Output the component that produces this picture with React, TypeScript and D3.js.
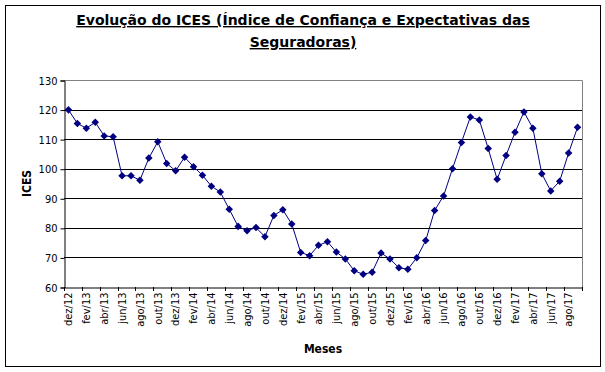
import React, { useEffect, useRef } from "react";
import * as d3 from "d3";

// months shown on the category axis (labels every other month)
const months = [
  "dez/12", "jan/13", "fev/13", "mar/13", "abr/13", "mai/13", "jun/13", "jul/13", "ago/13", "set/13", "out/13", "nov/13",
  "dez/13", "jan/14", "fev/14", "mar/14", "abr/14", "mai/14", "jun/14", "jul/14", "ago/14", "set/14", "out/14", "nov/14",
  "dez/14", "jan/15", "fev/15", "mar/15", "abr/15", "mai/15", "jun/15", "jul/15", "ago/15", "set/15", "out/15", "nov/15",
  "dez/15", "jan/16", "fev/16", "mar/16", "abr/16", "mai/16", "jun/16", "jul/16", "ago/16", "set/16", "out/16", "nov/16",
  "dez/16", "jan/17", "fev/17", "mar/17", "abr/17", "mai/17", "jun/17", "jul/17", "ago/17", "set/17"
];

const ices = [
  119.9, 115.3, 113.7, 115.7, 111.1, 110.8, 97.6, 97.6, 96.1, 103.6, 109.1, 101.8,
  99.3, 103.9, 100.7, 97.8, 94.1, 92.1, 86.3, 80.5, 79.0, 80.1, 77.0, 84.2,
  86.1, 81.3, 71.7, 70.6, 74.1, 75.3, 71.8, 69.5, 65.5, 64.3, 65.0, 71.5,
  69.5, 66.5, 66.0, 69.9, 75.7, 85.9, 90.8, 100.0, 108.9, 117.5, 116.5, 106.8,
  96.4, 104.5, 112.3, 119.2, 113.7, 98.3, 92.5, 95.8, 105.3, 114.0
];

const yTicks = [60, 70, 80, 90, 100, 110, 120, 130];

const FONT = "'DejaVu Sans Condensed', 'DejaVu Sans', sans-serif";
const TITLE_FONT = "'DejaVu Sans', sans-serif";

export default function App() {
  const ref = useRef<SVGSVGElement>(null);

  useEffect(() => {
    const svg = d3.select(ref.current);
    svg.selectAll("*").remove();

    const W = 605, H = 372;
    const plot = { left: 64, right: 582, top: 80, bottom: 287 };

    // outer frame
    svg.append("rect")
      .attr("x", 5.5).attr("y", 5.5)
      .attr("width", 595).attr("height", 361)
      .attr("fill", "white").attr("stroke", "black");

    const x = d3.scaleBand<string>()
      .domain(months)
      .range([plot.left, plot.right]);
    const y = d3.scaleLinear().domain([60, 130]).range([plot.bottom, plot.top]);

    // grid lines
    svg.append("g").selectAll("line")
      .data(yTicks.filter(t => t > 60 && t < 130))
      .join("line")
      .attr("x1", plot.left).attr("x2", plot.right)
      .attr("y1", d => Math.round(y(d)) + 0.5).attr("y2", d => Math.round(y(d)) + 0.5)
      .attr("stroke", "black");

    // plot area border (grey top / right)
    svg.append("path")
      .attr("d", `M${plot.left},${plot.top + 0.5}H${plot.right + 0.5}V${plot.bottom}`)
      .attr("fill", "none").attr("stroke", "#808080");

    // y axis
    const yAxis = d3.axisLeft(y).tickValues(yTicks).tickSize(4).tickPadding(3);
    const gy = svg.append("g")
      .attr("transform", `translate(${plot.left + 0.5},0.5)`)
      .call(yAxis);
    gy.selectAll("text").attr("font-family", FONT).attr("font-size", 11).attr("fill", "black");

    // x axis
    const xAxis = d3.axisBottom(x)
      .tickValues(months.filter((_, i) => i % 2 === 0))
      .tickSize(0).tickPadding(0);
    const gx = svg.append("g")
      .attr("transform", `translate(0,${plot.bottom + 0.5})`)
      .call(xAxis);
    gx.selectAll(".tick line").remove();
    gx.selectAll("text")
      .attr("font-family", FONT).attr("font-size", 11).attr("fill", "black")
      .attr("transform", "rotate(-90)")
      .attr("text-anchor", "end")
      .attr("x", -5).attr("y", 0).attr("dy", "0.35em");

    // tick marks at every other category boundary
    svg.append("g").selectAll("line")
      .data(months.map((_, i) => i).filter(i => i % 2 === 0).concat([months.length]))
      .join("line")
      .attr("x1", i => Math.round(plot.left + i * x.step()) + 0.5)
      .attr("x2", i => Math.round(plot.left + i * x.step()) + 0.5)
      .attr("y1", plot.bottom).attr("y2", plot.bottom + 4)
      .attr("stroke", "black");

    gx.select(".domain").attr("stroke", "black");
    gy.select(".domain").attr("stroke", "black");

    // series
    const line = d3.line<number>()
      .x((_, i) => (x(months[i]) as number) + x.bandwidth() / 2)
      .y(d => y(d));
    svg.append("path")
      .attr("d", line(ices))
      .attr("fill", "none").attr("stroke", "#000080").attr("stroke-width", 1);

    svg.append("g").selectAll("path")
      .data(ices)
      .join("path")
      .attr("transform", (d, i) => `translate(${(x(months[i]) as number) + x.bandwidth() / 2},${y(d)})`)
      .attr("d", d3.symbol(d3.symbolDiamond2, 36)())
      .attr("fill", "#000080");

    // title
    const title = svg.append("text")
      .attr("text-anchor", "middle")
      .attr("font-family", TITLE_FONT).attr("font-size", 14).attr("font-weight", "bold")
      .attr("text-decoration", "underline");
    title.append("tspan").attr("x", 303).attr("y", 25)
      .text("Evolução do ICES (Índice de Confiança e Expectativas das");
    title.append("tspan").attr("x", 303).attr("y", 47)
      .text("Seguradoras)");

    // axis titles
    svg.append("text")
      .attr("transform", `translate(31,${(plot.top + plot.bottom) / 2}) rotate(-90)`)
      .attr("text-anchor", "middle")
      .attr("font-family", FONT).attr("font-size", 12).attr("font-weight", "bold")
      .text("ICES");
    svg.append("text")
      .attr("x", 323).attr("y", 353)
      .attr("text-anchor", "middle")
      .attr("font-family", FONT).attr("font-size", 12).attr("font-weight", "bold")
      .text("Meses");

    svg.attr("width", W).attr("height", H);
  }, []);

  return (
    <svg ref={ref} width={605} height={372}
      style={{ position: "absolute", left: 0, top: 0, background: "white" }} />
  );
}
